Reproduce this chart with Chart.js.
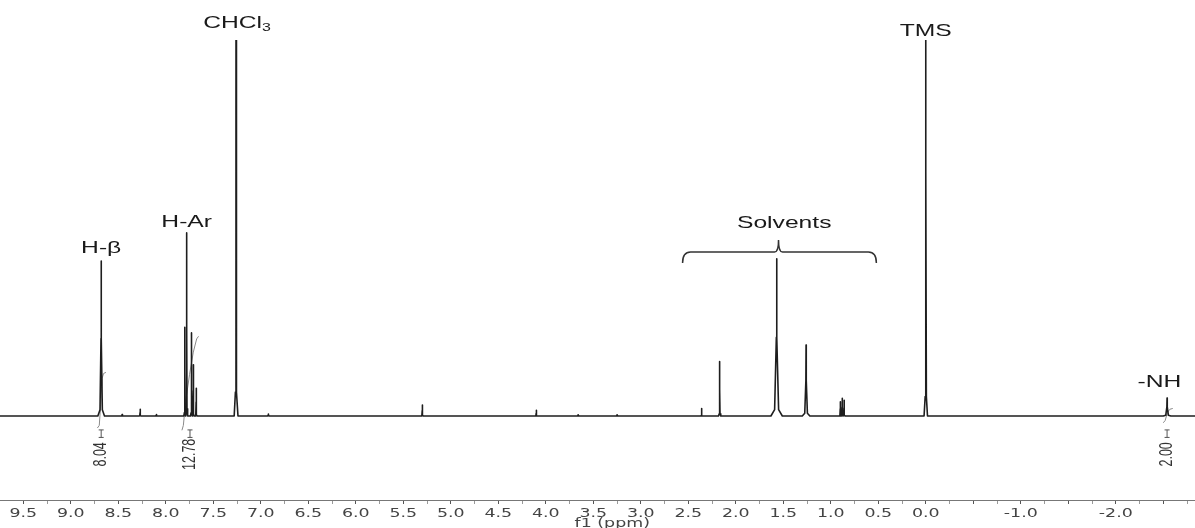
<!DOCTYPE html>
<html>
<head>
<meta charset="utf-8">
<script src="https://cdn.jsdelivr.net/npm/chart.js@4.4.0/dist/chart.umd.min.js"></script>
<style>
  html, body { margin: 0; padding: 0; background: #fff; }
  canvas { display: block; }
</style>
</head>
<body>
<canvas id="nmr" width="1195" height="528"></canvas>
<script>
// 1H NMR peaks (ppm, relative height, half base width in ppm)
const peakShifts  = [8.68, 8.46, 8.27, 8.10, 7.80, 7.78, 7.73, 7.71, 7.68, 7.26, 6.92, 5.30, 4.10, 3.66, 3.25, 2.36, 2.17, 1.57, 1.26, 0.90, 0.88, 0.86, 0.00, -2.54]
const peakHeights = [41.2, 0.4, 1.8, 0.4, 23.6, 48.7, 22.1, 13.6, 7.4, 160, 0.5, 2.9, 1.5, 0.3, 0.3, 2.0, 14.5, 41.8, 18.9, 3.8, 4.7, 4.2, 130, 4.8]
const peakWidths  = [0.035, 0.02, 0.012, 0.02, 0.01, 0.01, 0.01, 0.01, 0.012, 0.02, 0.02, 0.012, 0.012, 0.03, 0.03, 0.012, 0.012, 0.06, 0.04, 0.01, 0.01, 0.012, 0.018, 0.04]

// integral traces [ppm, height]
const integralHb  = [[8.72, -3.2], [8.70, -2.5], [8.685, 3], [8.67, 10], [8.655, 11.3], [8.63, 11.6]]
const integralAr  = [[7.83, -3.8], [7.815, -2.5], [7.79, 4], [7.75, 11], [7.71, 17], [7.675, 20.5], [7.655, 21.2]]
const integralNH  = [[-2.50, -1.8], [-2.52, -1.2], [-2.545, 1], [-2.57, 1.8], [-2.60, 2]]

// integration values under the peaks
const integralShifts = [8.68, 7.745, -2.54]
const integralLabels = ["8.04", "12.78", "2.00"]

// peak annotations [text, ppm, height]
const peakLabels = [
  ["H-\u03b2", 8.68, 44.7],
  ["H-Ar", 7.78, 51.6],
  ["TMS", 0.0, 102.4],
  ["Solvents", 1.49, 51.3],
  ["-NH", -2.46, 9.0],
]

const tickLabels = ["9.5", "9.0", "8.5", "8.0", "7.5", "7.0", "6.5", "6.0", "5.5", "5.0", "4.5", "4.0",
  "3.5", "3.0", "2.5", "2.0", "1.5", "1.0", "0.5", "0.0", "-1.0", "-2.0"]

const xMin = -2.834, xMax = 9.745
const STRETCH = 1.45

function buildSpectrum() {
  const pts = [{ x: xMax, y: 0 }]
  peakShifts.forEach((s, i) => {
    const h = peakHeights[i], w = peakWidths[i]
    pts.push({ x: s + w, y: 0 }, { x: s + w * 0.35, y: h * 0.04 }, { x: s + w * 0.05, y: h * 0.5 },
      { x: s, y: h },
      { x: s - w * 0.05, y: h * 0.5 }, { x: s - w * 0.35, y: h * 0.04 }, { x: s - w, y: 0 })
  })
  pts.push({ x: xMin, y: 0 })
  return pts
}

const toXY = (arr) => arr.map(([x, y]) => ({ x, y }))

function stretchText(ctx, text, x, y, font, color) {
  ctx.save()
  ctx.translate(x, y)
  ctx.scale(STRETCH, 1)
  ctx.font = font
  ctx.fillStyle = color
  ctx.textAlign = "center"
  ctx.textBaseline = "middle"
  ctx.fillText(text, 0, 0)
  ctx.restore()
}

const labelPlugin = {
  id: "nmrLabels",
  afterDraw(chart) {
    const ctx = chart.ctx
    const xs = chart.scales.x, ys = chart.scales.y
    const area = chart.chartArea
    const labelFont = "17px 'Liberation Sans', Arial, sans-serif"

    // axis numbers and title
    tickLabels.forEach((t) => {
      stretchText(ctx, t, xs.getPixelForValue(parseFloat(t)), area.bottom + 14,
        "12px 'DejaVu Sans', Verdana, sans-serif", "#444")
    })
    stretchText(ctx, "f1 (ppm)", xs.getPixelForValue(3.3), area.bottom + 24,
      "12px 'DejaVu Sans', Verdana, sans-serif", "#444")

    // peak labels
    peakLabels.forEach(([t, x, y]) => {
      stretchText(ctx, t, xs.getPixelForValue(x), ys.getPixelForValue(y), labelFont, "#1a1a1a")
    })

    // CHCl3 with subscript
    ctx.save()
    const cx = xs.getPixelForValue(7.25), cy = ys.getPixelForValue(104.5)
    ctx.translate(cx, cy)
    ctx.scale(STRETCH, 1)
    ctx.font = labelFont
    const wMain = ctx.measureText("CHCl").width
    ctx.font = "11px 'Liberation Sans', Arial, sans-serif"
    const wSub = ctx.measureText("3").width
    const x0 = -(wMain + wSub) / 2
    ctx.fillStyle = "#1a1a1a"
    ctx.textBaseline = "middle"
    ctx.textAlign = "left"
    ctx.font = labelFont
    ctx.fillText("CHCl", x0, 0)
    ctx.font = "11px 'Liberation Sans', Arial, sans-serif"
    ctx.fillText("3", x0 + wMain, 5)
    ctx.restore()

    // solvents brace
    const bl = xs.getPixelForValue(2.56), br = xs.getPixelForValue(0.52), bm = xs.getPixelForValue(1.55)
    const yEnd = ys.getPixelForValue(40.7), yLine = ys.getPixelForValue(43.6), yTip = ys.getPixelForValue(46.8)
    ctx.save()
    ctx.strokeStyle = "#333"
    ctx.lineWidth = 1.5
    ctx.beginPath()
    ctx.moveTo(bl, yEnd)
    ctx.quadraticCurveTo(bl, yLine, bl + 8, yLine)
    ctx.lineTo(bm - 4, yLine)
    ctx.quadraticCurveTo(bm, yLine, bm, yTip)
    ctx.quadraticCurveTo(bm, yLine, bm + 4, yLine)
    ctx.lineTo(br - 8, yLine)
    ctx.quadraticCurveTo(br, yLine, br, yEnd)
    ctx.stroke()
    ctx.restore()

    // integration brackets and values
    integralShifts.forEach((s, i) => {
      const x = xs.getPixelForValue(s)
      const yA = ys.getPixelForValue(-3.7), yB = ys.getPixelForValue(-5.7)
      ctx.save()
      ctx.strokeStyle = "#555"
      ctx.lineWidth = 1
      ctx.beginPath()
      ctx.moveTo(x, yA); ctx.lineTo(x, yB)
      ctx.moveTo(x - 2.5, yA); ctx.lineTo(x + 2.5, yA)
      ctx.moveTo(x - 2.5, yB); ctx.lineTo(x + 2.5, yB)
      ctx.stroke()
      ctx.translate(x, ys.getPixelForValue(-10.2))
      ctx.scale(STRETCH, 1)
      ctx.rotate(-Math.PI / 2)
      ctx.font = "12.5px 'Liberation Sans Narrow', 'Liberation Sans', Arial, sans-serif"
      ctx.fillStyle = "#333"
      ctx.textAlign = "center"
      ctx.textBaseline = "middle"
      ctx.fillText(integralLabels[i], 0, 0)
      ctx.restore()
    })
  },
}

new Chart(document.getElementById("nmr"), {
  type: "line",
  data: {
    datasets: [
      { data: buildSpectrum(), borderColor: "#1e1e1e", borderWidth: 1.6, borderJoinStyle: "round", pointRadius: 0, order: 0 },
      { data: toXY(integralHb), borderColor: "#8a8a8a", borderWidth: 1, borderJoinStyle: "round", pointRadius: 0, order: 1 },
      { data: toXY(integralAr), borderColor: "#8a8a8a", borderWidth: 1, borderJoinStyle: "round", pointRadius: 0, order: 1 },
      { data: toXY(integralNH), borderColor: "#8a8a8a", borderWidth: 1, borderJoinStyle: "round", pointRadius: 0, order: 1 },
    ],
  },
  options: {
    responsive: false,
    animation: false,
    devicePixelRatio: 1,
    layout: { padding: { top: 40, bottom: 24, left: 0, right: 0 } },
    plugins: { legend: { display: false }, tooltip: { enabled: false } },
    elements: { line: { tension: 0 } },
    scales: {
      x: {
        type: "linear",
        reverse: true,
        min: xMin,
        max: xMax,
        afterBuildTicks: (axis) => {
          const ticks = []
          for (let v = 9.5; v >= -2.75; v -= 0.25) ticks.push({ value: Math.round(v * 100) / 100 })
          axis.ticks = ticks
        },
        ticks: { display: false },
        grid: {
          drawOnChartArea: false,
          drawTicks: true,
          tickLength: 4,
          tickColor: (c) => (c.tick && Math.abs(c.tick.value * 2 - Math.round(c.tick.value * 2)) < 1e-6 ? "#555" : "#999"),
        },
        border: { display: true, color: "#777", width: 1 },
      },
      y: { display: false, min: -22.34, max: 100 },
    },
  },
  plugins: [labelPlugin],
})
</script>
</body>
</html>
